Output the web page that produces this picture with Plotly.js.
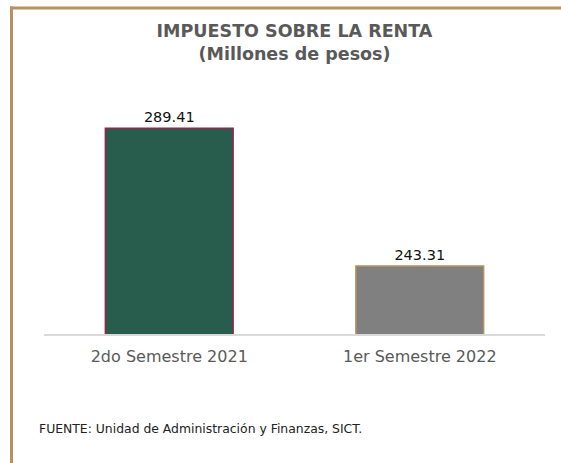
<!DOCTYPE html>
<html><head><meta charset="utf-8">
<script src="https://cdn.plot.ly/plotly-3.0.1.min.js"></script>
<style>body{margin:0;background:#fff}#c{width:561px;height:463px}</style>
</head><body><div id="c"></div>
<script>
const categories = ['2do Semestre 2021', '1er Semestre 2022'];
const values = [289.41, 243.31];
const labels = ['289.41', '243.31'];
const fillColors = ['#285C4D', '#808080'];
const lineColors = ['#9B2247', '#B8915E'];

const W = 561, H = 463, mL = 44, mR = 16, mT = 80, mB = 129;
const pw = W - mL - mR, ph = H - mT - mB;
const px = x => (x - mL) / pw;
const py = y => (H - mB - y) / ph;
const FONT = 'DejaVu Sans, sans-serif';

const trace = {
  type: 'bar', x: categories, y: values, text: labels,
  textposition: 'outside', cliponaxis: false,
  textfont: {family: FONT, size: 14.5, color: '#111'},
  marker: {color: fillColors, line: {color: lineColors, width: 1.5}},
  hoverinfo: 'none'
};
const layout = {
  width: W, height: H, margin: {l: mL, r: mR, t: mT, b: mB},
  paper_bgcolor: '#fff', plot_bgcolor: '#fff', showlegend: false, bargap: 0.49,
  font: {family: FONT},
  title: {text: '<b>IMPUESTO SOBRE LA RENTA</b><br><b>(Millones de pesos)</b>',
    font: {family: FONT, size: 17.5, color: '#595959'}, x: 0.5, xref: 'paper',
    y: 1 - 37 / H, yref: 'container', yanchor: 'middle'},
  xaxis: {showline: true, linecolor: '#D9D9D9', linewidth: 1.5, ticks: '', ticklabelstandoff: 7,
    tickfont: {family: FONT, size: 16, color: '#595959'}, fixedrange: true},
  yaxis: {range: [220.6, 305.5], visible: false, showgrid: false, zeroline: false, fixedrange: true},
  shapes: [
    {type: 'line', xref: 'paper', yref: 'paper', x0: px(10), x1: px(561), y0: py(8), y1: py(8), line: {color: '#B8915E', width: 3}},
    {type: 'line', xref: 'paper', yref: 'paper', x0: px(11.5), x1: px(11.5), y0: py(6.5), y1: py(463), line: {color: '#B8915E', width: 3}}
  ],
  annotations: [{text: 'FUENTE: Unidad de Administración y Finanzas, SICT.', xref: 'paper', yref: 'paper',
    x: px(37), y: py(428), xanchor: 'left', yanchor: 'middle', showarrow: false,
    font: {family: FONT, size: 12.4, color: '#222'}}]
};
Plotly.newPlot('c', [trace], layout, {displayModeBar: false, staticPlot: true});
</script></body></html>
